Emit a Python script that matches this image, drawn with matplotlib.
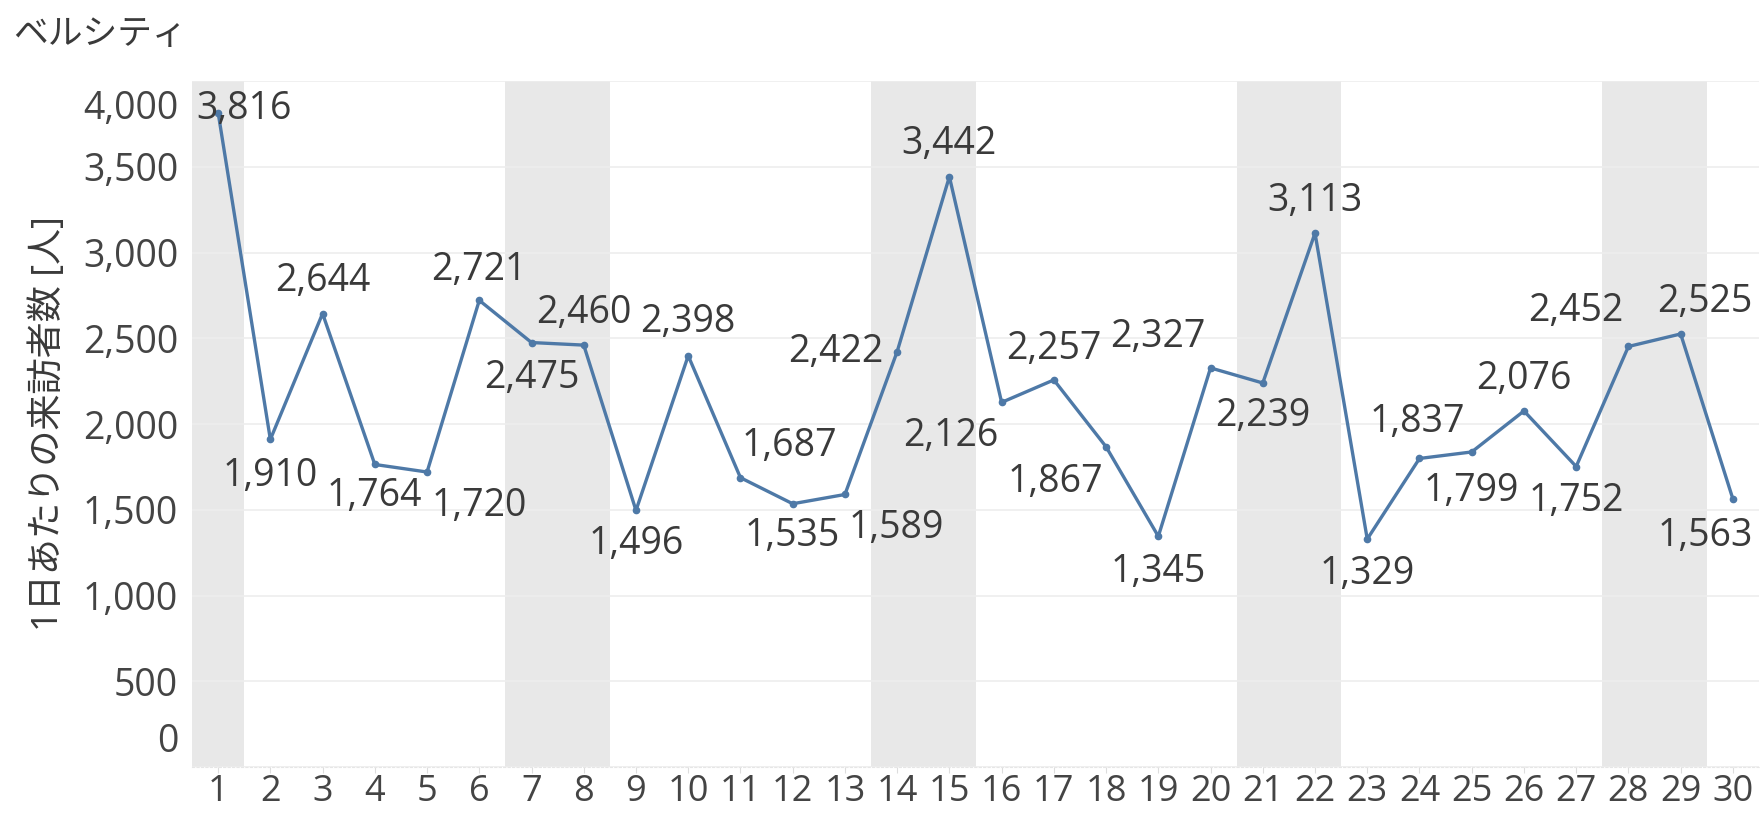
import numpy as np
import matplotlib
matplotlib.use("Agg")
import matplotlib.pyplot as plt
import matplotlib.transforms as mtrans

plt.rcParams['font.family'] = ['Open Sans', 'Noto Sans CJK JP', 'DejaVu Sans']

days = list(range(1, 31))
visitors = [3816, 1910, 2644, 1764, 1720, 2721, 2475, 2460, 1496, 2398,
            1687, 1535, 1589, 2422, 3442, 2126, 2257, 1867, 1345, 2327,
            2239, 3113, 1329, 1799, 1837, 2076, 1752, 2452, 2525, 1563]
weekend_days = [1, 7, 8, 14, 15, 21, 22, 28, 29]
title = "ベルシティ"
ylabel = "1日あたりの来訪者数 [人]"

# label placement (pixels right / pixels down from the point)
lab_dx = [26, 0, 0, 0, 52, 0, 0, 0, 0, 0,
          49, 0, 51, -61, 0, -51, 0, -51, 0, -53,
          0, 0, 0, 52, -54, 0, 0, -53, 24, -28]
lab_dy = [-4, 37, -33, 32, 34, -30, 35, -32, 34, -34,
          -32, 32, 34, 0, -33, 34, -31, 35, 36, -31,
          33, -32, 35, 33, -30, -32, 34, -35, -32, 37]

fig = plt.figure(figsize=(17.6, 8.15), dpi=100)
ax = fig.add_axes([192 / 1760, 1 - 767 / 815, 1567 / 1760, (767 - 81) / 815])

for d in weekend_days:
    ax.axvspan(d - 0.5, d + 0.5, color='#e8e8e8', lw=0, zorder=0)

ax.set_xlim(0.5, 30.5)
ax.set_ylim(0, 4000)
ax.set_yticks(range(0, 4001, 500))
ax.set_yticklabels([f"{v:,}" for v in range(0, 4001, 500)])
ax.set_xticks(days)
ax.set_xticklabels([str(d) for d in days])
ax.grid(axis='y', color='#eeeeee', lw=1.2, zorder=0.5)
ax.set_axisbelow(True)

for s in ['top', 'right', 'left']:
    ax.spines[s].set_visible(False)
ax.spines['bottom'].set_color('#e6e6e6')
ax.spines['bottom'].set_linestyle((0, (2, 2)))

ax.tick_params(axis='y', length=0, pad=10, labelsize=27, labelcolor='#444444')
ax.tick_params(axis='x', length=4, color='#dddddd', pad=1, labelsize=26, labelcolor='#444444')

ylabs = ax.get_yticklabels()
ylabs[-1].set_va('top')
ylabs[0].set_va('bottom')
ylabs[-1].set_transform(ylabs[-1].get_transform() + mtrans.ScaledTranslation(0, -9 / 100, fig.dpi_scale_trans))
ylabs[0].set_transform(ylabs[0].get_transform() + mtrans.ScaledTranslation(0, 6 / 100, fig.dpi_scale_trans))

ax.plot(days, visitors, color='#4e79a7', lw=2.4, marker='o', ms=4.5, zorder=3)

for d, v, dx, dy in zip(days, visitors, lab_dx, lab_dy):
    ax.annotate(f"{v:,}", (d, v), xytext=(dx * 0.72, -dy * 0.72), textcoords='offset points',
                ha='center', va='center', fontsize=27, color='#3a3a3a', zorder=4)

ax.set_ylabel(ylabel, fontsize=26, color='#3a3a3a')
ax.yaxis.set_label_coords(-0.08, 0.5)
fig.text(13 / 1760, 1 - 35 / 815, title, fontsize=25, color='#3a3a3a', ha='left', va='center')

fig.savefig("out.png", dpi=100)
